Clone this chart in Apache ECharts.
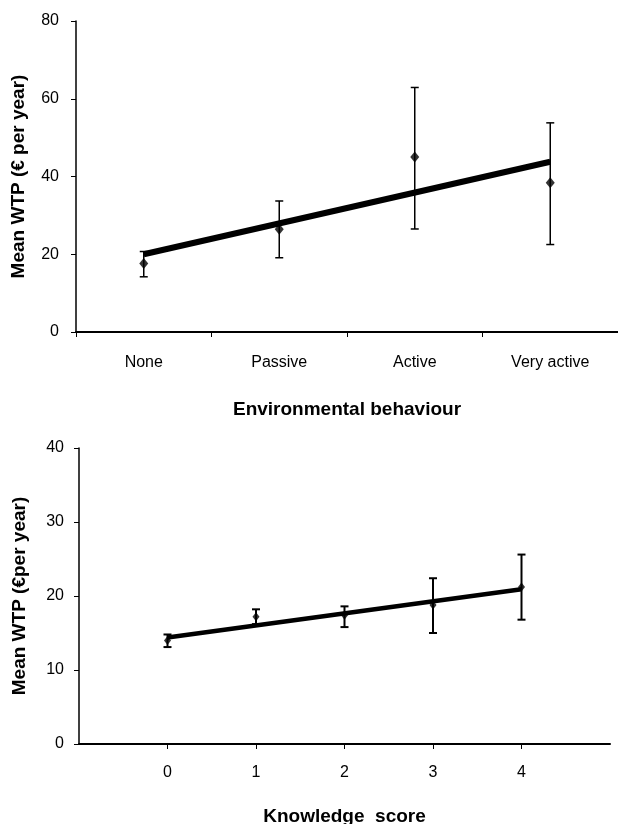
<!DOCTYPE html>
<html>
<head>
<meta charset="utf-8">
<script src="https://cdn.jsdelivr.net/npm/echarts@6/dist/echarts.min.js"></script>
<style>
html,body{margin:0;padding:0;background:#fff;}
#c{width:618px;height:824px;}
</style>
</head>
<body>
<div id="c"></div>
<script>
// ---- Top panel: Environmental behaviour ----
const behaviourCats = ['None', 'Passive', 'Active', 'Very active'];
const behaviourMean = [17.6, 26.4, 45.0, 38.4];
const behaviourLow  = [14.2, 19.1, 26.5, 22.5];
const behaviourHigh = [20.7, 33.7, 62.9, 53.8];
const behaviourTrend = [20.0, 43.8]; // fitted line at None and Very active
const behaviourYTicks = [0, 20, 40, 60, 80];

// ---- Bottom panel: Knowledge score ----
const knowledgeScores = [0, 1, 2, 3, 4];
const knowledgeMean = [14.0, 17.2, 17.4, 18.8, 21.2];
const knowledgeLow  = [13.1, 16.2, 15.8, 15.0, 16.8];
const knowledgeHigh = [14.8, 18.2, 18.6, 22.4, 25.6];
const knowledgeTrend = [14.4, 20.9]; // fitted line at score 0 and 4
const knowledgeYTicks = [0, 10, 20, 30, 40];

const FONT = '"Liberation Sans", Arial, sans-serif';

function errorBar(capHalf, lw) {
  return function (params, api) {
    const x = api.value(0), lo = api.value(1), hi = api.value(2);
    const pLo = api.coord([x, lo]);
    const pHi = api.coord([x, hi]);
    const st = { stroke: '#000', lineWidth: lw };
    return {
      type: 'group',
      children: [
        { type: 'line', shape: { x1: pLo[0], y1: pLo[1], x2: pHi[0], y2: pHi[1] }, style: st },
        { type: 'line', shape: { x1: pLo[0] - capHalf, y1: pLo[1], x2: pLo[0] + capHalf, y2: pLo[1] }, style: st },
        { type: 'line', shape: { x1: pHi[0] - capHalf, y1: pHi[1], x2: pHi[0] + capHalf, y2: pHi[1] }, style: st }
      ]
    };
  };
}

const chart = echarts.init(document.getElementById('c'), null, { renderer: 'canvas' });

const axisLabelStyle = { color: '#000', fontFamily: FONT, fontSize: 16 };
const nameStyle = { color: '#000', fontFamily: FONT, fontSize: 19, fontWeight: 'bold' };

chart.setOption({
  animation: false,
  backgroundColor: '#fff',
  grid: [
    { left: 76, top: 21, width: 542, height: 311, containLabel: false, outerBoundsMode: 'none' },
    { left: 79, top: 448, width: 531, height: 296, containLabel: false, outerBoundsMode: 'none' }
  ],
  xAxis: [
    {
      gridIndex: 0,
      type: 'category',
      data: behaviourCats,
      boundaryGap: true,
      name: 'Environmental behaviour',
      nameLocation: 'middle',
      nameGap: 68,
      nameTextStyle: nameStyle,
      axisLine: { lineStyle: { color: '#000', width: 2 } },
      axisTick: { show: true, length: 5, lineStyle: { color: '#000', width: 1 } },
      axisLabel: Object.assign({ margin: 23 }, axisLabelStyle),
      splitLine: { show: false }
    },
    {
      gridIndex: 1,
      type: 'value',
      min: -1,
      max: 5,
      interval: 1,
      name: 'Knowledge  score',
      nameLocation: 'middle',
      nameGap: 63,
      nameTextStyle: nameStyle,
      axisLine: { onZero: false, lineStyle: { color: '#000', width: 2 } },
      axisTick: { show: true, length: 5, lineStyle: { color: '#000', width: 1 } },
      axisLabel: Object.assign({
        margin: 21,
        showMinLabel: false,
        showMaxLabel: false,
        formatter: function (v) { return knowledgeScores.indexOf(v) >= 0 ? String(v) : ''; }
      }, axisLabelStyle),
      splitLine: { show: false }
    }
  ],
  yAxis: [
    {
      gridIndex: 0,
      type: 'value',
      min: behaviourYTicks[0],
      max: behaviourYTicks[behaviourYTicks.length - 1],
      interval: behaviourYTicks[1] - behaviourYTicks[0],
      name: 'Mean WTP (€ per year)',
      nameLocation: 'middle',
      nameGap: 48,
      nameTextStyle: nameStyle,
      axisLine: { show: true, onZero: false, lineStyle: { color: '#000', width: 1.5 } },
      axisTick: { show: true, length: 5, lineStyle: { color: '#000', width: 1 } },
      axisLabel: Object.assign({ margin: 17 }, axisLabelStyle),
      splitLine: { show: false }
    },
    {
      gridIndex: 1,
      type: 'value',
      min: knowledgeYTicks[0],
      max: knowledgeYTicks[knowledgeYTicks.length - 1],
      interval: knowledgeYTicks[1] - knowledgeYTicks[0],
      name: 'Mean WTP (€per year)',
      nameLocation: 'middle',
      nameGap: 50,
      nameTextStyle: nameStyle,
      axisLine: { show: true, onZero: false, lineStyle: { color: '#000', width: 1.5 } },
      axisTick: { show: true, length: 5, lineStyle: { color: '#000', width: 1 } },
      axisLabel: Object.assign({ margin: 15 }, axisLabelStyle),
      splitLine: { show: false }
    }
  ],
  series: [
    {
      type: 'custom',
      xAxisIndex: 0, yAxisIndex: 0,
      renderItem: errorBar(4, 1.5),
      data: behaviourCats.map((c, i) => [i, behaviourLow[i], behaviourHigh[i]]),
      z: 2
    },
    {
      type: 'line',
      xAxisIndex: 0, yAxisIndex: 0,
      data: [[behaviourCats[0], behaviourTrend[0]], [behaviourCats[behaviourCats.length - 1], behaviourTrend[1]]],
      symbol: 'none',
      lineStyle: { color: '#000', width: 6 },
      z: 3
    },
    {
      type: 'scatter',
      xAxisIndex: 0, yAxisIndex: 0,
      data: behaviourCats.map((c, i) => [i, behaviourMean[i]]),
      symbol: 'diamond',
      symbolSize: [9, 11],
      itemStyle: { color: '#000' },
      z: 4
    },
    {
      type: 'custom',
      xAxisIndex: 1, yAxisIndex: 1,
      renderItem: errorBar(4, 2),
      data: knowledgeScores.map((k, i) => [k, knowledgeLow[i], knowledgeHigh[i]]),
      z: 2
    },
    {
      type: 'line',
      xAxisIndex: 1, yAxisIndex: 1,
      data: [[knowledgeScores[0], knowledgeTrend[0]], [knowledgeScores[knowledgeScores.length - 1], knowledgeTrend[1]]],
      symbol: 'none',
      lineStyle: { color: '#000', width: 4.5 },
      z: 3
    },
    {
      type: 'scatter',
      xAxisIndex: 1, yAxisIndex: 1,
      data: knowledgeScores.map((k, i) => [k, knowledgeMean[i]]),
      symbol: 'diamond',
      symbolSize: [7, 9],
      itemStyle: { color: '#000' },
      z: 4
    }
  ]
});
</script>
</body>
</html>
